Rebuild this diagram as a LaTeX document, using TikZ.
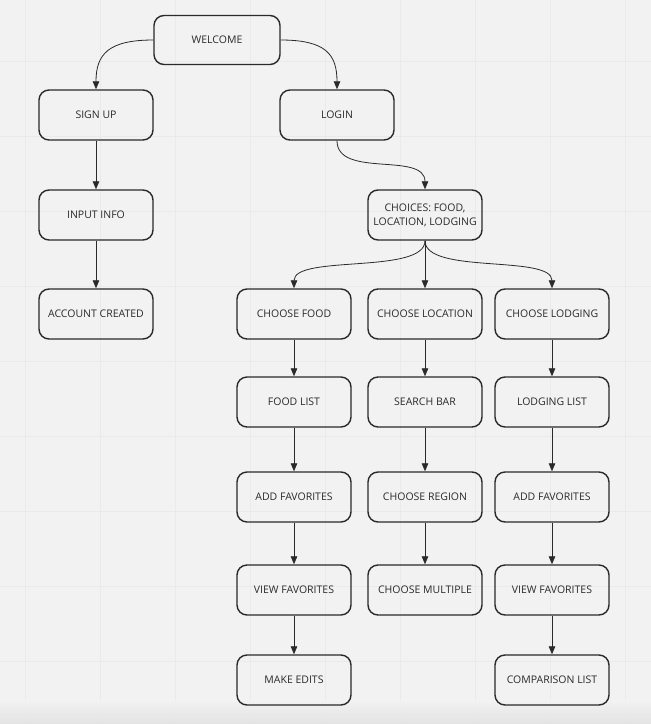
\documentclass[tikz,border=0pt]{standalone}
\usepackage{fontspec}
\setmainfont{Open Sans}
\usetikzlibrary{arrows.meta}
\definecolor{bg}{HTML}{F2F2F2}
\definecolor{gridc}{HTML}{EAEAEA}
\definecolor{shadebot}{HTML}{E2E2E2}
\definecolor{ink}{HTML}{2A2A2A}
\begin{document}
\begin{tikzpicture}[x=1pt,y=-1pt,
  box/.style={draw=ink, line width=1.4pt, rounded corners=10pt,
    minimum width=114pt, minimum height=50pt, align=center,
    inner sep=2pt, text=ink, font=\fontsize{10.5}{14}\selectfont},
  link/.style={draw=ink, line width=0.8pt,
    -{Triangle[length=8pt,width=6.5pt]}}]
  % canvas with light grid
  \useasboundingbox (0,0) rectangle (651,724);
  \fill[bg] (0,0) rectangle (651,724);
  \foreach \gx in {25,100,...,625}
    \draw[gridc, line width=1pt] (\gx,0) -- (\gx,724);
  \foreach \gy in {61,136,...,661}
    \draw[gridc, line width=1pt] (0,\gy) -- (651,\gy);
  \shade[top color=bg, bottom color=shadebot, opacity=0.9] (0,700) rectangle (651,724);

  % nodes
  \node[box, minimum width=126pt, minimum height=49pt] (welcome) at (217,40) {WELCOME};
  \node[box] (signup)  at (96,115)  {SIGN UP};
  \node[box] (login)   at (337,115) {LOGIN};
  \node[box] (input)   at (96,215)  {INPUT INFO};
  \node[box] (account) at (96,314)  {ACCOUNT CREATED};
  \node[box] (choices) at (425,215) {CHOICES: FOOD,\\LOCATION, LODGING};

  \node[box] (cfood)   at (294,314) {CHOOSE FOOD};
  \node[box] (cloc)    at (425,314) {CHOOSE LOCATION};
  \node[box] (clodge)  at (552,314) {CHOOSE LODGING};

  \node[box] (foodlist)  at (294,402) {FOOD LIST};
  \node[box] (search)    at (425,402) {SEARCH BAR};
  \node[box] (lodglist)  at (552,402) {LODGING LIST};

  \node[box] (addfav1)   at (294,497) {ADD FAVORITES};
  \node[box] (region)    at (425,497) {CHOOSE REGION};
  \node[box] (addfav2)   at (552,497) {ADD FAVORITES};

  \node[box] (viewfav1)  at (294,590) {VIEW FAVORITES};
  \node[box] (multiple)  at (425,590) {CHOOSE MULTIPLE};
  \node[box] (viewfav2)  at (552,590) {VIEW FAVORITES};

  \node[box] (edits)     at (294,680) {MAKE EDITS};
  \node[box] (compare)   at (552,680) {COMPARISON LIST};

  % curved connectors
  \draw[link] (welcome.west) .. controls +(-45,0) and +(0,-35) .. (signup.north);
  \draw[link] (welcome.east) .. controls +(45,0) and +(0,-35) .. (login.north);
  \draw[link] (login.south) .. controls +(0,38) and +(0,-38) .. (choices.north);
  \draw[link] (choices.south) .. controls +(0,34) and +(0,-34) .. (cfood.north);
  \draw[link] (choices.south) -- (cloc.north);
  \draw[link] (choices.south) .. controls +(0,34) and +(0,-34) .. (clodge.north);

  % straight connectors
  \draw[link] (signup) -- (input);
  \draw[link] (input) -- (account);
  \draw[link] (cfood) -- (foodlist);
  \draw[link] (foodlist) -- (addfav1);
  \draw[link] (addfav1) -- (viewfav1);
  \draw[link] (viewfav1) -- (edits);
  \draw[link] (cloc) -- (search);
  \draw[link] (search) -- (region);
  \draw[link] (region) -- (multiple);
  \draw[link] (clodge) -- (lodglist);
  \draw[link] (lodglist) -- (addfav2);
  \draw[link] (addfav2) -- (viewfav2);
  \draw[link] (viewfav2) -- (compare);
\end{tikzpicture}
\end{document}
